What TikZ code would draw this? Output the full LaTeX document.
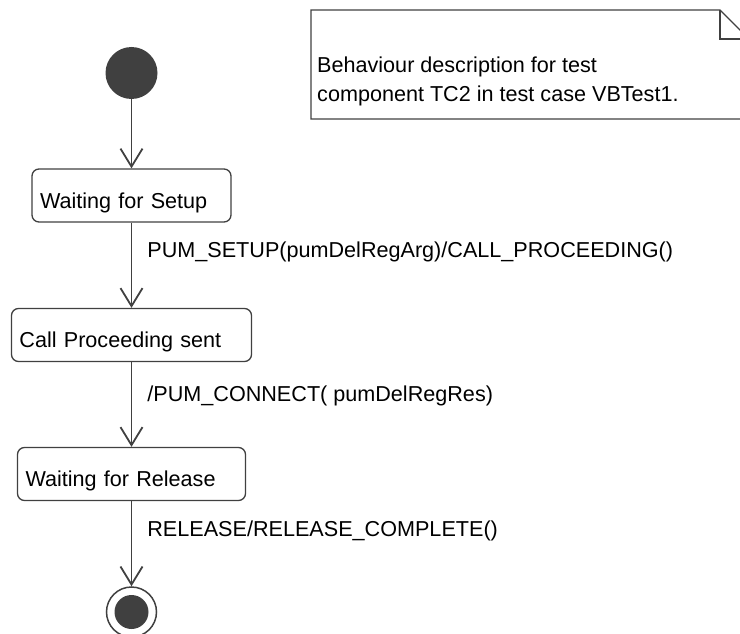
\documentclass[tikz,border=0pt]{standalone}
\usepackage{fontspec}
\setmainfont{Liberation Sans}
\usetikzlibrary{arrows.meta}
\definecolor{umlgray}{HTML}{404040}
\begin{document}
\begin{tikzpicture}[
        x=1pt, y=-1pt,
        font=\fontsize{21.6}{29}\selectfont,
        state/.style={draw=umlgray, line width=1.3pt, rounded corners=7pt, inner xsep=8pt, inner ysep=4pt, text height=35pt, text depth=10pt, align=left},
        transition/.style={draw=umlgray, line width=1.8pt, -{Straight Barb[length=18pt, width=22pt, line width=1.8pt]}},
        trigger/.style={anchor=base west, inner sep=0pt, xshift=15pt}
    ]
        \useasboundingbox (0,0) rectangle (740,634);
        \clip (0,0) rectangle (740,634);

        \node[circle, fill=umlgray, minimum size=52pt, inner sep=0pt] (initial) at (131.5,73) {};
        \node[state, text width=183pt] (setup) at (131.5,195.5) {Waiting for Setup};
        \node[state, text width=224pt] (proceeding) at (131.5,335) {Call Proceeding sent};
        \node[state, text width=212pt] (release) at (131.5,474) {Waiting for Release};
        \node[circle, draw=umlgray, line width=1.5pt, minimum size=50pt, inner sep=0pt] (final) at (131.5,612) {};
        \fill[umlgray] (final.center) circle (17pt);

        \draw[transition] (initial) -- (setup);
        \draw[transition] (setup) -- node[trigger, pos=0.41]
            {PUM\_SETUP(pumDelRegArg)/CALL\_PROCEEDING()} (proceeding);
        \draw[transition] (proceeding) -- node[trigger, pos=0.47]
            {/PUM\_CONNECT( pumDelRegRes)} (release);
        \draw[transition] (release) -- node[trigger, pos=0.42]
            {RELEASE/RELEASE\_COMPLETE()} (final);

        % note
        \draw[umlgray, line width=1.3pt]
            (311,10) -- (720,10) -- (749,39) -- (749,119) -- (311,119) -- cycle;
        \draw[umlgray, line width=1.3pt] (720,10) -- (720,39) -- (749,39);
        \node[anchor=base west, align=left, inner sep=0pt] (note) at (317,102)
            {Behaviour description for test\\component TC2 in test case VBTest1.};
    \end{tikzpicture}
\end{document}
